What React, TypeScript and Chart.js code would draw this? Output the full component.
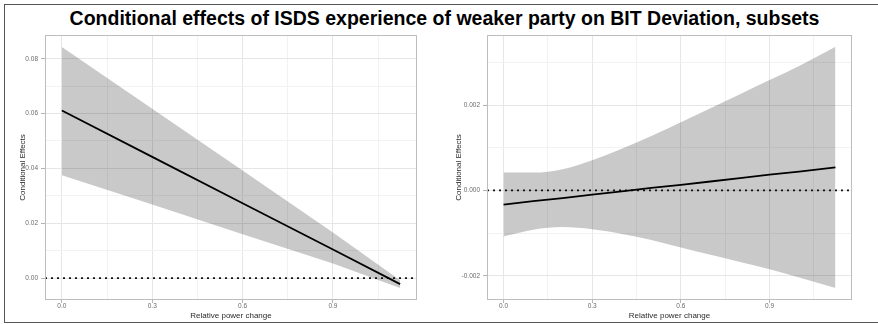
import React, { useEffect, useRef } from 'react';
import { Chart, registerables } from 'chart.js';

Chart.register(...registerables);

const FONT = '"Liberation Sans", Arial, Helvetica, sans-serif';

const TITLE = 'Conditional effects of ISDS experience of weaker party on BIT Deviation, subsets';
const X_TITLE = 'Relative power change';
const Y_TITLE = 'Conditional Effects';

// ---- shared x axis ----
const X_MIN = -0.056;
const X_MAX = 1.179;
const xTicks = [0, 0.15, 0.3, 0.45, 0.6, 0.75, 0.9, 1.05];
const xMajor = [0, 0.3, 0.6, 0.9];

// ---- left panel data ----
const leftX = [0, 0.3, 0.6, 0.9, 1.123];
const leftEffect = [0.0611, 0.0442, 0.0273, 0.0104, -0.0022];
const leftUpper = [0.0843, 0.0618, 0.0392, 0.0166, -0.0008];
const leftLower = [0.0375, 0.0268, 0.016, 0.0053, -0.0036];
const leftYMin = -0.008;
const leftYMax = 0.0887;
const leftYTicks = [0, 0.01, 0.02, 0.03, 0.04, 0.05, 0.06, 0.07, 0.08];
const leftYMajor = [0, 0.02, 0.04, 0.06, 0.08];

// ---- right panel data ----
const rightX = [0, 0.1, 0.2, 0.3, 0.4, 0.5, 0.6, 0.7, 0.8, 0.9, 1.0, 1.123];
const rightEffect = [-0.00033, -0.00025, -0.00018, -0.0001, -0.00002, 0.00006, 0.00013, 0.00021, 0.00029, 0.00037, 0.00044, 0.00054];
const rightUpper = [0.00042, 0.00042, 0.0005, 0.00071, 0.00098, 0.00128, 0.0016, 0.00193, 0.00226, 0.00259, 0.00292, 0.00337];
const rightLower = [-0.00108, -0.00092, -0.00086, -0.00091, -0.00102, -0.00116, -0.00134, -0.00151, -0.00168, -0.00185, -0.00204, -0.00229];
const rightYMin = -0.00257;
const rightYMax = 0.00365;
const rightYTicks = [-0.002, -0.001, 0, 0.001, 0.002, 0.003];
const rightYMajor = [-0.002, 0, 0.002];

const isIn = (v: number, arr: number[]) => arr.some((a) => Math.abs(a - v) < 1e-9);

const framePlugin = {
  id: 'panelFrame',
  afterDatasetsDraw(chart: any) {
    const { ctx, chartArea } = chart;
    ctx.save();
    ctx.strokeStyle = '#bdbdbd';
    ctx.lineWidth = 1;
    ctx.strokeRect(
      Math.round(chartArea.left) + 0.5,
      Math.round(chartArea.top) + 0.5,
      Math.round(chartArea.right - chartArea.left) - 1,
      Math.round(chartArea.bottom - chartArea.top) - 1
    );
    ctx.restore();
  },
};

type PanelProps = {
  left: number;
  width: number;
  yAxisWidth: number;
  rightPad: number;
  yTitlePad: number;
  xs: number[];
  effect: number[];
  upper: number[];
  lower: number[];
  yMin: number;
  yMax: number;
  yTicks: number[];
  yMajor: number[];
  yDecimals: number;
  smooth: boolean;
};

function Panel(p: PanelProps) {
  const ref = useRef<HTMLCanvasElement | null>(null);
  useEffect(() => {
    if (!ref.current) return;
    const pts = (ys: number[]) => p.xs.map((x, i) => ({ x, y: ys[i] }));
    const chart = new Chart(ref.current, {
      type: 'line',
      data: {
        datasets: [
          {
            data: pts(p.effect),
            borderColor: '#000000',
            borderWidth: 1.8,
            pointRadius: 0,
            fill: false,
            tension: 0,
          },
          {
            data: [
              { x: X_MIN, y: 0 },
              { x: X_MAX, y: 0 },
            ],
            borderColor: '#111111',
            borderWidth: 1.8,
            borderDash: [2, 4],
            borderCapStyle: 'butt',
            pointRadius: 0,
            fill: false,
          },
          {
            data: pts(p.upper),
            borderColor: 'rgba(0,0,0,0)',
            borderWidth: 1,
            backgroundColor: 'rgba(0,0,0,0.21)',
            pointRadius: 0,
            fill: '+1',
            cubicInterpolationMode: p.smooth ? 'monotone' : 'default',
          },
          {
            data: pts(p.lower),
            borderColor: 'rgba(0,0,0,0)',
            borderWidth: 1,
            pointRadius: 0,
            fill: false,
            cubicInterpolationMode: p.smooth ? 'monotone' : 'default',
          },
        ],
      } as any,
      options: {
        animation: false,
        responsive: false,
        maintainAspectRatio: false,
        devicePixelRatio: 1,
        layout: { padding: { left: 0, top: 4, right: p.rightPad, bottom: 0 } },
        plugins: { legend: { display: false }, tooltip: { enabled: false } },
        scales: {
          x: {
            type: 'linear',
            min: X_MIN,
            max: X_MAX,
            afterBuildTicks: (s: any) => {
              s.ticks = xTicks.map((v) => ({ value: v }));
            },
            afterFit: (s: any) => {
              s.height = 24;
            },
            ticks: {
              autoSkip: false,
              maxRotation: 0,
              padding: -1,
              color: '#6b6b6b',
              font: { family: FONT, size: 6.5 },
              callback: (v: any) => (isIn(Number(v), xMajor) ? Number(v).toFixed(1) : ''),
            },
            grid: {
              color: (c: any) => (c.tick && isIn(c.tick.value, xMajor) ? '#e6e6e6' : '#f2f2f2'),
              lineWidth: 1,
              tickLength: 3,
              tickColor: (c: any) => (c.tick && isIn(c.tick.value, xMajor) ? '#b3b3b3' : 'rgba(0,0,0,0)'),
            },
            border: { display: false },
            title: {
              display: true,
              text: X_TITLE,
              color: '#2a2a2a',
              font: { family: FONT, size: 8 },
              padding: { top: 0, bottom: 3 },
            },
          },
          y: {
            type: 'linear',
            min: p.yMin,
            max: p.yMax,
            afterBuildTicks: (s: any) => {
              s.ticks = p.yTicks.map((v) => ({ value: v }));
            },
            afterFit: (s: any) => {
              s.width = p.yAxisWidth;
            },
            ticks: {
              autoSkip: false,
              padding: 3,
              color: '#6b6b6b',
              font: { family: FONT, size: 6.5 },
              callback: (v: any) => (isIn(Number(v), p.yMajor) ? Number(v).toFixed(p.yDecimals) : ''),
            },
            grid: {
              color: (c: any) => (c.tick && isIn(c.tick.value, p.yMajor) ? '#e6e6e6' : '#f2f2f2'),
              lineWidth: 1,
              tickLength: 4,
              tickColor: (c: any) => (c.tick && isIn(c.tick.value, p.yMajor) ? '#b3b3b3' : 'rgba(0,0,0,0)'),
            },
            border: { display: false },
            title: {
              display: true,
              text: Y_TITLE,
              color: '#2a2a2a',
              font: { family: FONT, size: 8 },
              padding: { top: p.yTitlePad, bottom: 0 },
            },
          },
        },
      } as any,
      plugins: [framePlugin],
    });
    return () => chart.destroy();
  }, []);
  return (
    <canvas
      ref={ref}
      width={p.width}
      height={296}
      style={{ position: 'absolute', left: p.left, top: 28, width: p.width, height: 296 }}
    />
  );
}

export default function App() {
  return (
    <div
      style={{
        position: 'absolute',
        left: 0,
        top: 0,
        width: 878,
        height: 324,
        background: '#ffffff',
        overflow: 'hidden',
        fontFamily: FONT,
      }}
    >
      <div style={{ position: 'absolute', left: 4, top: 4, width: 874, height: 0, borderTop: '1.5px solid #555' }} />
      <div style={{ position: 'absolute', left: 4, top: 322, width: 874, height: 0, borderTop: '1.5px solid #555' }} />
      <div style={{ position: 'absolute', left: 4, top: 4, width: 0, height: 319, borderLeft: '1.5px solid #555' }} />
      <div
        style={{
          position: 'absolute',
          left: 0,
          width: 889,
          top: 7,
          textAlign: 'center',
          fontWeight: 'bold',
          fontSize: 19.5,
          color: '#000',
          whiteSpace: 'nowrap',
        }}
      >
        {TITLE}
      </div>
      <Panel
        left={6}
        width={434}
        yAxisWidth={39}
        rightPad={23}
        yTitlePad={12}
        xs={leftX}
        effect={leftEffect}
        upper={leftUpper}
        lower={leftLower}
        yMin={leftYMin}
        yMax={leftYMax}
        yTicks={leftYTicks}
        yMajor={leftYMajor}
        yDecimals={2}
        smooth={false}
      />
      <Panel
        left={440}
        width={438}
        yAxisWidth={47}
        rightPad={26}
        yTitlePad={14}
        xs={rightX}
        effect={rightEffect}
        upper={rightUpper}
        lower={rightLower}
        yMin={rightYMin}
        yMax={rightYMax}
        yTicks={rightYTicks}
        yMajor={rightYMajor}
        yDecimals={3}
        smooth={true}
      />
    </div>
  );
}
